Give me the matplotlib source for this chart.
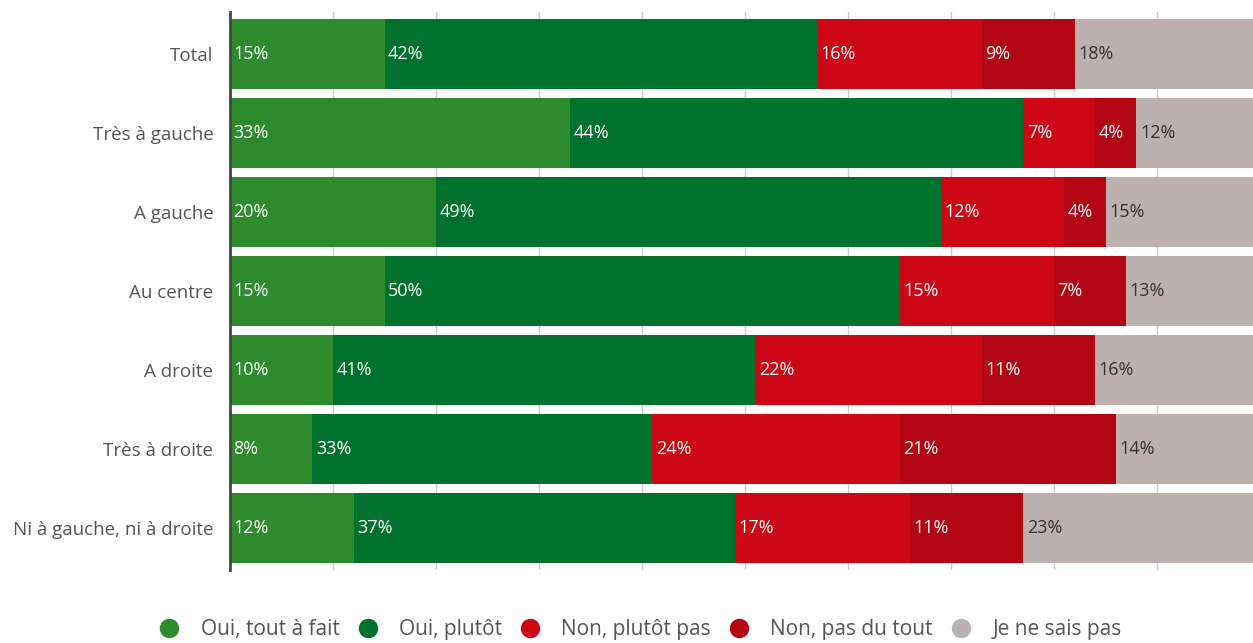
import matplotlib
matplotlib.use("Agg")
import matplotlib.pyplot as plt
from matplotlib.lines import Line2D
import numpy as np

plt.rcParams['font.family'] = ['Open Sans', 'DejaVu Sans']

categories = ["Total", "Très à gauche", "A gauche", "Au centre", "A droite",
              "Très à droite", "Ni à gauche, ni à droite"]
series = ["Oui, tout à fait", "Oui, plutôt", "Non, plutôt pas", "Non, pas du tout", "Je ne sais pas"]
tout_a_fait = [15, 33, 20, 15, 10, 8, 12]
plutot = [42, 44, 49, 50, 41, 33, 37]
plutot_pas = [16, 7, 12, 15, 22, 24, 17]
pas_du_tout = [9, 4, 4, 7, 11, 21, 11]
ne_sais_pas = [18, 12, 15, 13, 16, 14, 23]

colors = ["#2d8a2d", "#00722d", "#cc0816", "#b30614", "#bdb1af"]
text_colors = ["white", "white", "white", "white", "#333333"]

W, H = 1253, 643
fig = plt.figure(figsize=(W / 100, H / 100), dpi=100)
ax = fig.add_axes([230 / W, 1 - 570 / H, 1030 / W, 558 / H])

values = [tout_a_fait, plutot, plutot_pas, pas_du_tout, ne_sais_pas]
y = np.arange(len(categories))
left = np.zeros(len(categories))
for vals, col, tcol, name in zip(values, colors, text_colors, series):
    ax.barh(y, vals, left=left, height=0.88, color=col, label=name, zorder=2)
    for yi, (l, v) in enumerate(zip(left, vals)):
        ax.text(l + 0.35, yi, f"{v}%", color=tcol, va="center", ha="left",
                fontsize=13, zorder=3)
    left += np.array(vals)

ax.set_xlim(0, 100)
ax.set_ylim(len(categories) - 0.47, -0.53)
ax.set_xticks(np.arange(10, 100, 10))
ax.xaxis.grid(True, color="#cccccc", linewidth=1, zorder=0)
ax.tick_params(axis="x", length=0, labelbottom=False)
ax.set_yticks(y)
ax.set_yticklabels(categories, fontsize=13.5, color="#555555")
ax.tick_params(axis="y", length=0, pad=12)
for s in ["top", "right", "bottom"]:
    ax.spines[s].set_visible(False)
ax.spines["left"].set_color("#444444")
ax.spines["left"].set_linewidth(2)
ax.spines["left"].set_zorder(4)

handles = [Line2D([], [], marker="o", linestyle="none", markersize=13,
                  markerfacecolor=c, markeredgecolor=c) for c in colors]
fig.legend(handles, series, loc="center", bbox_to_anchor=(635 / W, 1 - 630 / H),
           ncol=5, frameon=False, fontsize=15, handletextpad=0.5, columnspacing=0.35,
           labelcolor="#555555")

fig.savefig("out.png", dpi=100)
